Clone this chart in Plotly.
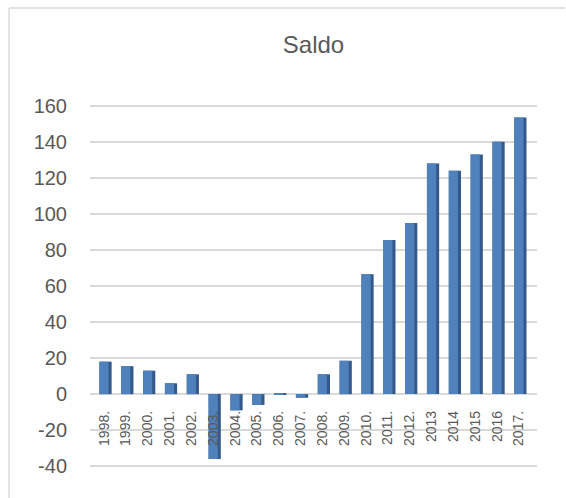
import plotly.graph_objects as go

years = ['1998.', '1999.', '2000.', '2001.', '2002.', '2003.', '2004.', '2005.', '2006.', '2007.',
         '2008.', '2009.', '2010.', '2011.', '2012.', '2013', '2014', '2015', '2016', '2017.']
saldo = [18, 15.5, 13, 6, 11, -36, -9, -6, 0.5, -2,
         11, 18.5, 66.5, 85.5, 95, 128, 124, 133, 140, 153.5]
y_ticks = [-40, -20, 0, 20, 40, 60, 80, 100, 120, 140, 160]
y_labels = ['-40', '-20', '0', '20', '40', '60', '80', '100', '120', '140', '160']

idx = list(range(len(years)))

fig = go.Figure()
# dark side of the "3D" columns
fig.add_bar(x=idx, y=saldo, width=0.56, offset=-0.21,
            marker=dict(color='#35598a', line=dict(width=0)), hoverinfo='skip')
# front face
fig.add_bar(x=idx, y=saldo, width=0.42, offset=-0.21,
            marker=dict(color='#4f81bd', line=dict(width=0)),
            hovertemplate='%{text}: %{y}<extra></extra>', text=years, textposition='none')

# chart frame: only the top and left edges are inside the page
frame = dict(color='#d9d9d9', width=1.5)
fig.add_shape(type='line', xref='paper', yref='paper',
              x0=-0.181, x1=1.063, y0=1.2637, y1=1.2637, line=frame, layer='below')
fig.add_shape(type='line', xref='paper', yref='paper',
              x0=-0.181, x1=-0.181, y0=-0.2, y1=1.2637, line=frame, layer='below')

fig.update_layout(
    width=566, height=498,
    margin=dict(l=90, r=29, t=104, b=30),
    paper_bgcolor='white', plot_bgcolor='white',
    barmode='overlay', showlegend=False,
    font=dict(family='Liberation Sans', color='#595959'),
    title=dict(text='Saldo', x=0.5, xref='paper', y=0.9096, yanchor='middle',
               font=dict(size=24, color='#595959')),
    xaxis=dict(tickmode='array', tickvals=idx, ticktext=years, tickangle=-90,
               range=[-0.64, 19.83], showgrid=False, zeroline=False, showline=False,
               anchor='free', position=0.203, ticklabelstandoff=13,
               tickfont=dict(size=14, color='#595959')),
    yaxis=dict(tickmode='array', tickvals=y_ticks, ticktext=y_labels, range=[-41, 161],
               gridcolor='#d9d9d9', gridwidth=1.5, zeroline=False, showline=False,
               ticklabelstandoff=22, tickfont=dict(size=20, color='#595959')),
)

# drop the default body margin so the figure fills the window exactly
fig.write_html('out.html', config={'displayModeBar': False},
               post_script="document.body.style.margin='0';document.body.style.overflow='hidden';")
